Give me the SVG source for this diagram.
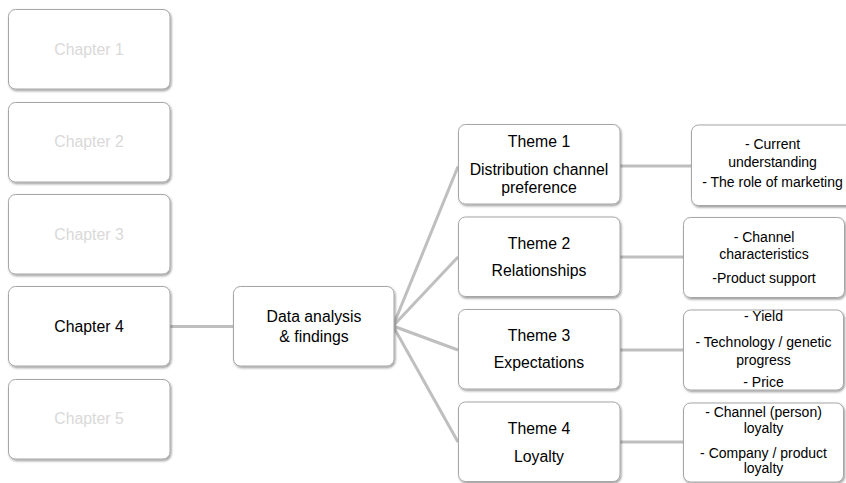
<svg xmlns="http://www.w3.org/2000/svg" width="846" height="483" viewBox="0 0 846 483">
  <defs>
    <filter id="shadow" x="-10%" y="-10%" width="120%" height="130%">
      <feDropShadow dx="1" dy="1.5" stdDeviation="1" flood-color="#000" flood-opacity="0.4"/>
    </filter>
    <style>
      .box { fill: #ffffff; stroke: #a6a6a6; stroke-width: 1; filter: url(#shadow); }
      .link { stroke: #bfbfbf; stroke-width: 3; fill: none; stroke-linecap: butt; }
      text { font-family: "Liberation Sans", Arial, sans-serif; text-anchor: middle; fill: #000; }
      .l { font-size: 15.8px; }
      .s { font-size: 14px; }
      .faded { fill: #d9d9d9; }
    </style>
  </defs>
  <rect width="846" height="483" fill="#ffffff"/>

  <!-- connectors -->
  <g id="connectors">
    <line class="link" x1="170" y1="326.5" x2="233" y2="326.5"/>
    <line class="link" x1="393" y1="326" x2="458" y2="166.5"/>
    <line class="link" x1="393" y1="326" x2="458" y2="257"/>
    <line class="link" x1="393" y1="326" x2="458" y2="350"/>
    <line class="link" x1="393" y1="326" x2="458" y2="442"/>
    <line class="link" x1="620" y1="166" x2="691" y2="166"/>
    <line class="link" x1="620" y1="257" x2="683" y2="257"/>
    <line class="link" x1="620" y1="350" x2="683" y2="350"/>
    <line class="link" x1="620" y1="442" x2="683" y2="442"/>
  </g>

  <!-- chapter column -->
  <g id="chapter1">
    <rect class="box" x="8.5" y="9.5" width="161.5" height="79.5" rx="7"/>
    <text class="l faded" x="89" y="55">Chapter 1</text>
  </g>
  <g id="chapter2">
    <rect class="box" x="8.5" y="102.5" width="161.5" height="79.5" rx="7"/>
    <text class="l faded" x="89" y="147">Chapter 2</text>
  </g>
  <g id="chapter3">
    <rect class="box" x="8.5" y="194.5" width="161.5" height="79.5" rx="7"/>
    <text class="l faded" x="89" y="240">Chapter 3</text>
  </g>
  <g id="chapter4">
    <rect class="box" x="8.5" y="286.5" width="161.5" height="79.5" rx="7"/>
    <text class="l" x="89" y="332">Chapter 4</text>
  </g>
  <g id="chapter5">
    <rect class="box" x="8.5" y="379.5" width="161.5" height="79.5" rx="7"/>
    <text class="l faded" x="89" y="424">Chapter 5</text>
  </g>

  <!-- central node -->
  <g id="data-analysis">
    <rect class="box" x="233.5" y="286.5" width="160.5" height="79.5" rx="7"/>
    <text class="l" x="314" y="322">Data analysis</text>
    <text class="l" x="314" y="342">&amp; findings</text>
  </g>

  <!-- themes -->
  <g id="theme1">
    <rect class="box" x="458.5" y="124.5" width="161.5" height="79.5" rx="7"/>
    <text class="l" x="539" y="147">Theme 1</text>
    <text class="l" x="539" y="175">Distribution channel</text>
    <text class="l" x="539" y="193">preference</text>
  </g>
  <g id="theme2">
    <rect class="box" x="458.5" y="217" width="161.5" height="79.5" rx="7"/>
    <text class="l" x="539" y="248.5">Theme 2</text>
    <text class="l" x="539" y="276">Relationships</text>
  </g>
  <g id="theme3">
    <rect class="box" x="458.5" y="309.5" width="161.5" height="79.5" rx="7"/>
    <text class="l" x="539" y="341">Theme 3</text>
    <text class="l" x="539" y="368">Expectations</text>
  </g>
  <g id="theme4">
    <rect class="box" x="458.5" y="402" width="161.5" height="79.5" rx="7"/>
    <text class="l" x="539" y="433.5">Theme 4</text>
    <text class="l" x="539" y="462">Loyalty</text>
  </g>

  <!-- theme details -->
  <g id="detail1">
    <rect class="box" x="691.5" y="125" width="165" height="80.5" rx="7"/>
    <text class="s" x="772.5" y="148.5">- Current</text>
    <text class="s" x="772.5" y="166.5">understanding</text>
    <text class="s" x="772.5" y="187">- The role of marketing</text>
  </g>
  <g id="detail2">
    <rect class="box" x="683.5" y="217.5" width="161" height="80" rx="7"/>
    <text class="s" x="764" y="241.5">- Channel</text>
    <text class="s" x="764" y="258.5">characteristics</text>
    <text class="s" x="764" y="283">-Product support</text>
  </g>
  <g id="detail3">
    <rect class="box" x="683.5" y="310" width="160" height="80" rx="7"/>
    <text class="s" x="763.5" y="321">- Yield</text>
    <text class="s" x="763.5" y="346.5">- Technology / genetic</text>
    <text class="s" x="763.5" y="365">progress</text>
    <text class="s" x="763.5" y="386.5">- Price</text>
  </g>
  <g id="detail4">
    <rect class="box" x="683.5" y="403" width="160" height="79" rx="7"/>
    <text class="s" x="763.5" y="416.5">- Channel (person)</text>
    <text class="s" x="763.5" y="433">loyalty</text>
    <text class="s" x="763.5" y="457.5">- Company / product</text>
    <text class="s" x="763.5" y="473">loyalty</text>
  </g>
</svg>
